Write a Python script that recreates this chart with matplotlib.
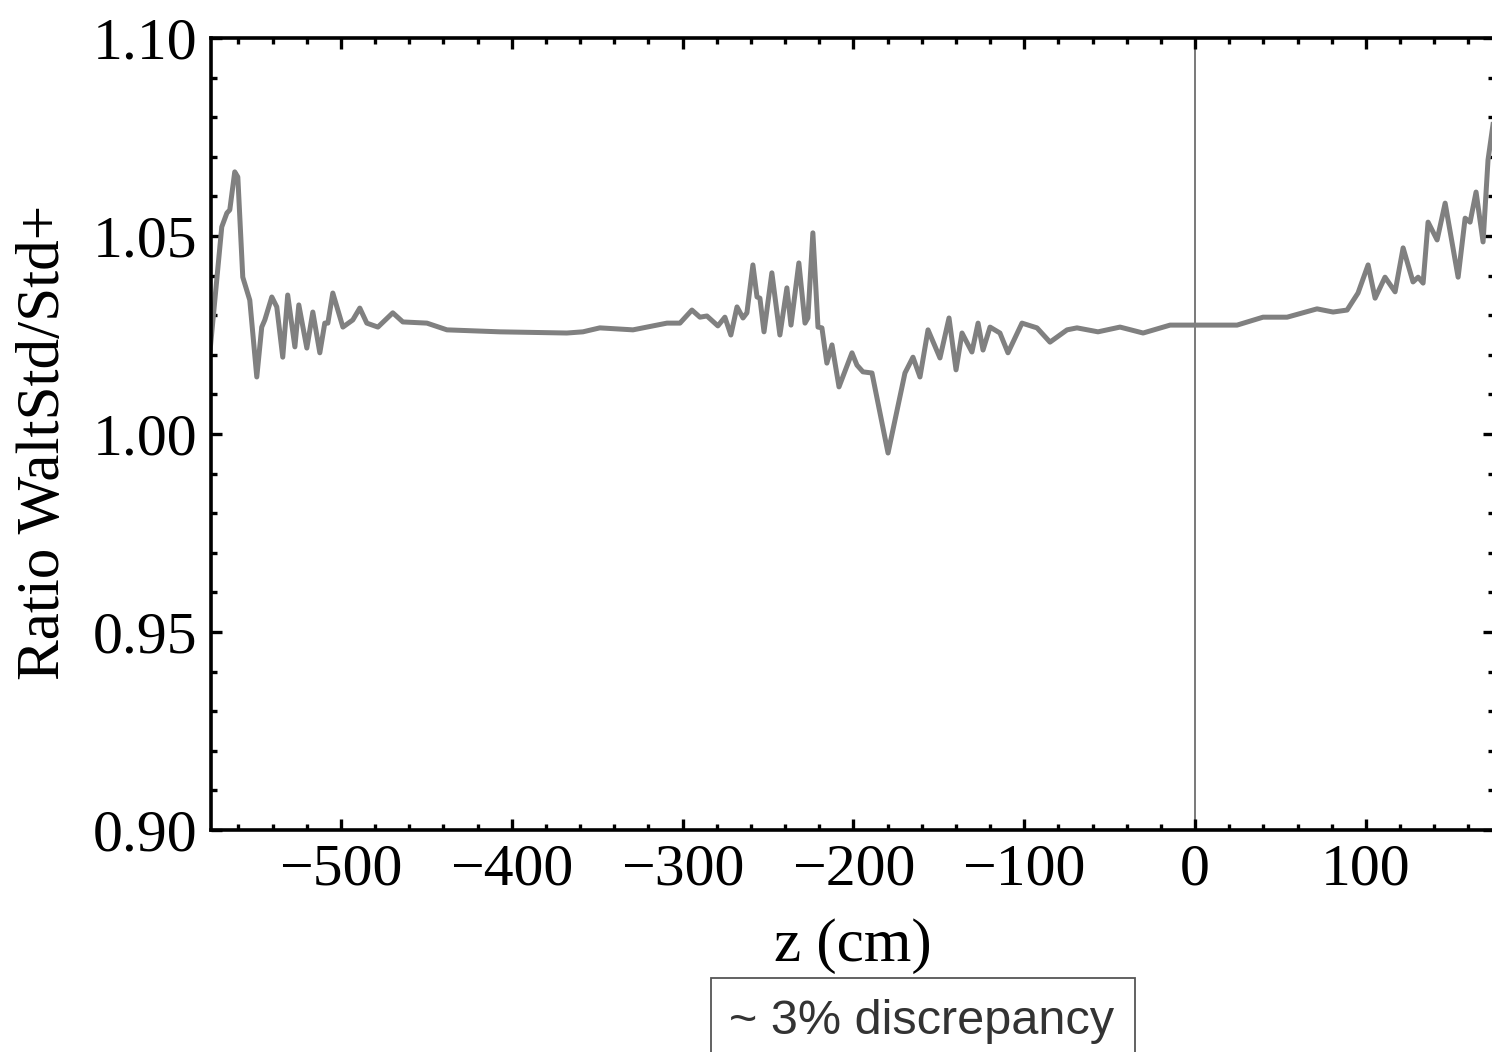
import matplotlib
matplotlib.use('Agg')
import matplotlib.pyplot as plt
from matplotlib.ticker import MultipleLocator, FormatStrFormatter
from matplotlib.patches import Rectangle

# z (cm) y razon WaltStd/Std+
z_cm = [-577.0, -569.7, -566.7, -565.0, -562.1, -560.3, -557.4, -553.3,
        -549.2, -546.3, -544.5, -540.4, -537.5, -534.0, -531.1, -526.9,
        -524.6, -519.9, -516.4, -512.3, -509.4, -507.6, -504.7, -498.8,
        -493.0, -488.9, -484.8, -478.3, -469.6, -463.7, -449.6, -437.9,
        -406.9, -367.7, -358.3, -348.4,
        -329.0, -309.1, -301.5, -294.5, -289.8, -285.7, -279.3, -275.2,
        -271.7, -268.1, -264.6, -262.3, -258.8, -256.4, -254.7, -252.3,
        -247.7, -243.0, -238.9, -236.5, -231.9, -228.3, -226.6, -223.7,
        -220.7, -218.4, -215.5, -212.5, -208.4, -200.8, -197.9, -194.4,
        -189.1, -179.7, -169.8, -165.1, -161.0, -156.3, -149.3, -144.0,
        -139.9, -136.4, -130.6, -127.0, -124.1, -120.0, -114.2,
        -109.5, -101.3, -92.5, -84.9, -74.9, -69.1, -56.8, -43.9,
        -30.4, -14.6, 1.2, 24.6, 39.8, 53.9, 71.4, 80.8,
        89.0, 95.4, 101.3, 105.4, 111.2, 117.1, 121.8, 127.6,
        130.6, 133.5, 136.4, 141.7, 146.4, 154.0, 158.1, 161.0,
        164.5, 168.6, 171.5, 176.0]

ratio = [1.0190, 1.0523, 1.0558, 1.0566, 1.0662, 1.0649, 1.0396, 1.0338,
         1.0144, 1.0270, 1.0288, 1.0346, 1.0321, 1.0194, 1.0351, 1.0220,
         1.0326, 1.0217, 1.0308, 1.0205, 1.0280, 1.0280, 1.0356, 1.0270,
         1.0288, 1.0318, 1.0280, 1.0270, 1.0306, 1.0283, 1.0280, 1.0263,
         1.0258, 1.0255, 1.0258, 1.0268,
         1.0263, 1.0280, 1.0280, 1.0313, 1.0295, 1.0298, 1.0273, 1.0295,
         1.0250, 1.0321, 1.0293, 1.0306, 1.0427, 1.0346, 1.0343, 1.0258,
         1.0407, 1.0250, 1.0369, 1.0275, 1.0432, 1.0280, 1.0293, 1.0508,
         1.0270, 1.0268, 1.0179, 1.0225, 1.0119, 1.0205, 1.0174, 1.0157,
         1.0154, 0.9952, 1.0154, 1.0194, 1.0144, 1.0263, 1.0192, 1.0293,
         1.0162, 1.0255, 1.0207, 1.0280, 1.0212, 1.0270, 1.0255,
         1.0205, 1.0280, 1.0268, 1.0232, 1.0263, 1.0268, 1.0258, 1.0270,
         1.0255, 1.0275, 1.0275, 1.0275, 1.0295, 1.0295, 1.0316, 1.0308,
         1.0313, 1.0356, 1.0427, 1.0343, 1.0396, 1.0359, 1.0470, 1.0384,
         1.0396, 1.0381, 1.0535, 1.0490, 1.0583, 1.0396, 1.0545, 1.0535,
         1.0611, 1.0485, 1.0692, 1.0830]

x_ticks = [-500, -400, -300, -200, -100, 0, 100]
nota = '~ 3% discrepancy'

plt.rcParams['font.family'] = ['Liberation Serif', 'DejaVu Serif']

fig = plt.figure(figsize=(14.92, 10.52), dpi=100)
ax = fig.add_axes([211/1492, 1 - 830/1052, 1283/1492, 792/1052])

ax.plot(z_cm, ratio, color='#808080', lw=3.6, solid_joinstyle='round')
ax.axvline(0, color='#555555', lw=1.1, zorder=1)

ax.set_xlim(-576, 175)
ax.set_ylim(0.90, 1.10)
ax.set_xticks(x_ticks)
ax.xaxis.set_minor_locator(MultipleLocator(20))
ax.yaxis.set_major_locator(MultipleLocator(0.05))
ax.yaxis.set_minor_locator(MultipleLocator(0.01))
ax.yaxis.set_major_formatter(FormatStrFormatter('%.2f'))

ax.tick_params(which='both', direction='in', top=True, right=True,
               width=2.4, labelsize=43, colors='black')
ax.tick_params(which='major', length=8, pad=10)
ax.tick_params(which='minor', length=4.5)
for s in ax.spines.values():
    s.set_linewidth(2.6)

ax.set_xlabel('z (cm)', fontsize=44)
ax.xaxis.set_label_coords(0.5, -0.111)
ax.xaxis.label.set_va('top')
ax.set_ylabel('Ratio WaltStd/Std+', fontsize=44)
ax.yaxis.set_label_coords(-0.108, 0.49)

# Cuadro de la nota abajo
fig.add_artist(Rectangle((711/1492, -0.02), 424/1492, 0.02 + 1 - 978/1052,
                         transform=fig.transFigure, fill=False,
                         edgecolor='#555555', lw=1.3))
fig.text(922/1492, 1 - 1021/1052, nota, fontsize=35, color='#333333',
         ha='center', va='center', family=['Liberation Sans', 'DejaVu Sans'])

fig.savefig('out.png', dpi=100)
